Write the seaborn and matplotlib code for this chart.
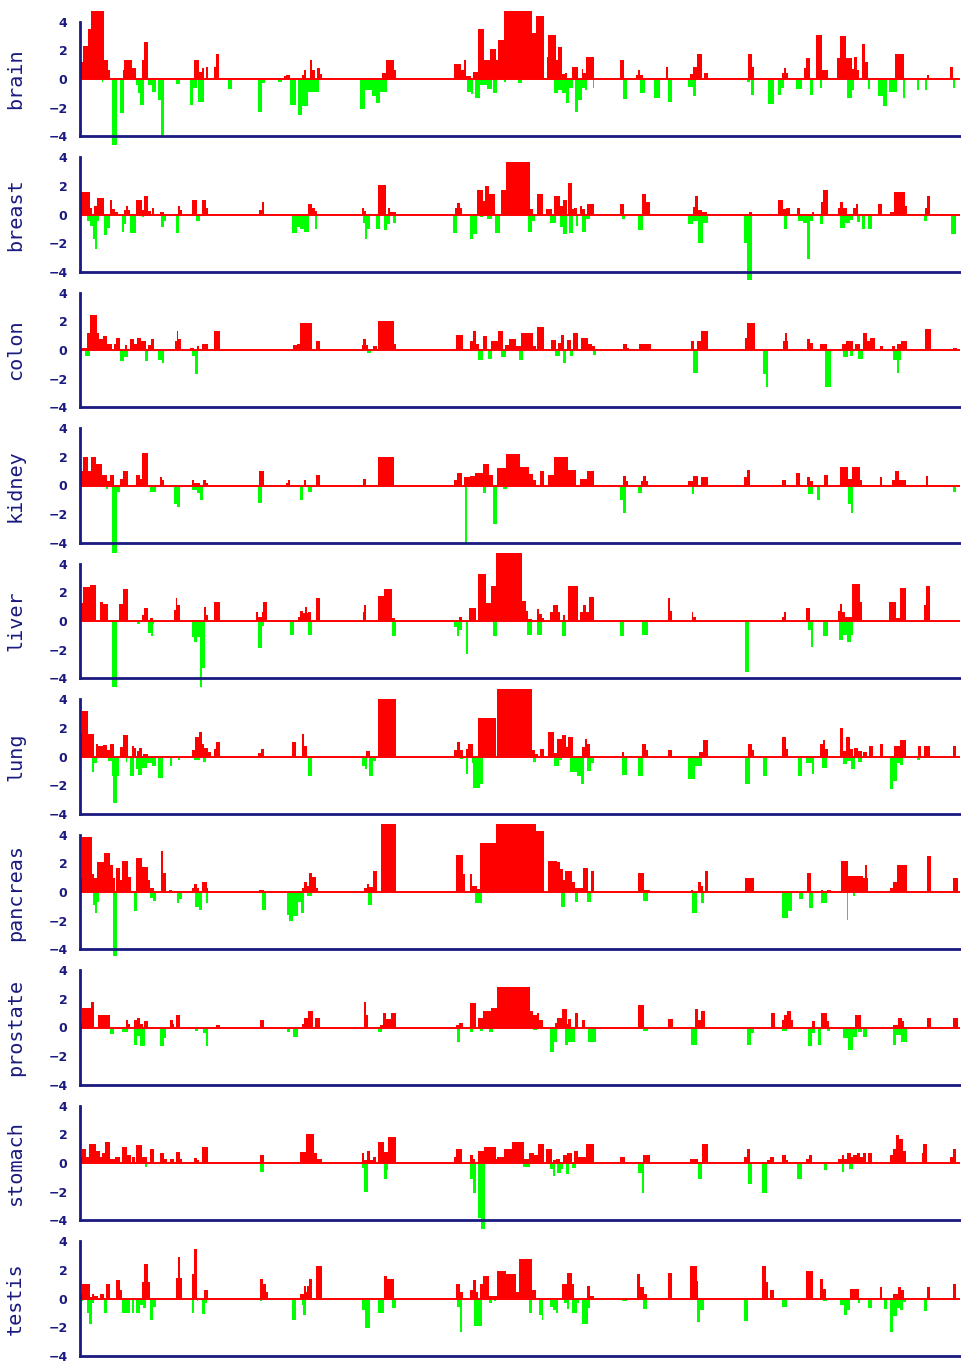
import numpy as np
import matplotlib
matplotlib.use("Agg")
import matplotlib.pyplot as plt
import seaborn as sns

# ---------------- data: (start, end, value) segments along the genome axis ----------------
tissues = ["brain", "breast", "colon", "kidney", "liver", "lung",
           "pancreas", "prostate", "stomach", "testis"]

brain_up = [(0,3,1.2),(3,8,2.3),(8,11,3.5),(11,24,5),(24,28,1.3),(28,30,0.6),(43,44,0.6),(44,52,1.3),(52,56,0.75),(62,64,1.3),(64,68,2.6),(114,119,1.3),(119,122,0.5),(122,124,0.75),(126,128,0.85),(134,136,0.85),(136,139,1.75),(204,206,0.2),(206,210,0.3),(222,224,0.3),(224,226,0.6),(230,232,1.3),(232,235,0.6),(237,240,0.75),(240,242,0.35),(302,306,0.45),(306,314,1.3),(314,316,0.6),(374,381,1.05),(381,384,0.6),(384,386,1.3),(386,391,0.2),(393,398,0.5),(398,404,3.5),(404,410,1.3),(410,416,2.1),(416,418,1.3),(418,424,2.7),(424,452,5),(452,456,3.25),(456,464,4.4),(467,468,1.55),(468,476,3.1),(476,478,1.3),(478,482,2.25),(482,485,0.35),(485,487,0.45),(492,498,0.85),(502,503,0.7),(503,506,0.4),(506,514,1.55),(540,544,1.3),(556,558,0.3),(558,560,0.6),(560,563,0.3),(586,588,0.85),(610,613,0.35),(613,617,0.85),(617,622,1.75),(624,628,0.45),(668,672,1.75),(672,674,0.85),(702,704,0.45),(704,706,0.75),(706,708,0.45),(724,726,0.75),(726,730,1.45),(736,742,3.1),(742,748,0.65),(757,760,1.45),(760,766,3.0),(766,772,1.45),(772,774,0.7),(774,777,1.55),(777,779,0.6),(782,785,2.45),(785,788,1.2),(815,824,1.75),(847,849,0.3),(870,873,0.85)]
brain_dn = [(22,23,-0.2),(32,37,-4.6),(40,44,-2.4),(56,58,-0.4),(58,60,-1.0),(60,64,-1.8),(68,72,-0.4),(72,76,-0.9),(78,81,-1.5),(81,84,-4.1),(96,100,-0.35),(110,113,-1.8),(113,117,-0.65),(118,124,-1.6),(148,152,-0.7),(178,182,-2.3),(182,185,-0.25),(198,202,-0.2),(210,216,-1.8),(218,222,-2.5),(222,228,-1.9),(228,239,-0.9),(280,285,-2.1),(285,292,-0.8),(292,296,-1.2),(296,300,-1.7),(300,307,-0.9),(387,391,-0.9),(391,393,-1.05),(395,400,-1.35),(400,407,-0.4),(407,412,-0.7),(413,417,-1.0),(424,426,-0.2),(438,442,-0.3),(474,478,-1.0),(478,482,-0.8),(482,486,-1.0),(486,489,-1.7),(489,493,-0.65),(495,498,-2.3),(498,502,-1.5),(502,505,-0.65),(505,507,-0.8),(513,514,-0.65),(543,547,-1.4),(560,565,-1.0),(574,580,-1.3),(588,592,-1.6),(608,613,-0.55),(613,616,-1.2),(667,670,-0.2),(671,674,-1.1),(688,694,-1.75),(698,701,-1.1),(701,704,-0.6),(716,722,-0.7),(730,733,-1.1),(740,742,-0.6),(767,772,-1.3),(772,774,-0.8),(788,790,-0.7),(798,803,-1.2),(803,807,-1.9),(809,817,-0.9),(823,825,-1.3),(837,839,-0.8),(845,847,-0.8),(873,875,-0.65)]

breast_up = [(0,10,1.6),(10,12,0.45),(14,17,0.6),(17,24,1.15),(30,32,1.05),(32,35,0.4),(35,38,0.15),(44,46,0.35),(46,48,0.6),(48,50,0.35),(56,62,1.05),(62,64,0.3),(64,68,1.3),(68,71,0.25),(72,74,0.45),(80,84,0.15),(98,100,0.6),(100,102,0.3),(112,117,1.05),(122,126,1.05),(126,128,0.45),(179,182,0.35),(182,184,0.9),(228,232,0.75),(232,235,0.45),(235,237,0.25),(282,284,0.45),(284,286,0.25),(298,306,2.05),(308,310,0.45),(310,316,0.15),(375,377,0.45),(377,380,0.8),(380,382,0.45),(397,403,1.7),(403,405,0.95),(405,409,2.0),(409,415,1.45),(421,426,1.75),(426,450,3.7),(450,453,0.4),(457,463,1.45),(466,472,0.4),(474,480,1.3),(480,483,0.6),(483,487,1.0),(488,492,2.2),(492,494,0.4),(494,497,0.45),(500,502,0.6),(502,505,0.4),(507,514,0.75),(540,544,0.75),(562,566,1.45),(566,570,0.9),(613,615,0.55),(615,618,1.3),(618,622,0.35),(622,627,0.15),(669,672,0.15),(698,703,1.0),(703,706,0.4),(706,710,0.45),(717,720,0.45),(732,734,0.2),(741,743,0.9),(743,748,1.7),(758,760,0.45),(760,763,0.9),(763,767,0.45),(773,776,0.45),(776,778,0.75),(798,802,0.75),(810,814,0.2),(814,825,1.6),(825,827,0.6),(845,847,0.45),(847,850,1.3)]
breast_dn = [(0,2,-0.25),(7,10,-0.45),(10,13,-0.8),(13,15,-1.75),(15,17,-2.45),(17,19,-0.45),(24,27,-1.45),(27,30,-0.95),(42,44,-1.2),(44,46,-0.7),(50,56,-1.3),(62,64,-0.15),(81,84,-0.85),(84,86,-0.45),(96,99,-1.3),(116,120,-0.45),(212,217,-1.3),(217,220,-0.85),(220,224,-1.0),(224,229,-1.2),(235,237,-1.05),(283,285,-0.6),(285,287,-1.7),(287,290,-1.05),(296,300,-1.05),(304,307,-1.1),(307,310,-0.7),(313,316,-0.6),(373,377,-1.3),(390,393,-1.7),(393,397,-1.4),(400,403,-0.15),(407,412,-0.3),(415,420,-1.3),(448,452,-1.2),(452,455,-0.45),(470,476,-0.6),(480,483,-0.85),(483,487,-1.35),(489,493,-1.3),(496,498,-0.8),(502,506,-1.25),(506,510,-0.35),(542,545,-0.3),(558,563,-1.1),(608,613,-0.7),(613,618,-0.45),(618,623,-2.0),(623,628,-0.6),(664,667,-2.0),(667,672,-4.6),(704,707,-1.05),(718,723,-0.45),(723,727,-0.6),(727,730,-3.1),(730,733,-0.45),(740,743,-0.65),(760,765,-0.95),(765,770,-0.6),(770,773,-0.4),(777,780,-0.55),(782,785,-1.0),(788,792,-1.05),(844,847,-0.45),(871,876,-1.4)]

colon_up = [(2,7,0.15),(7,10,1.2),(10,17,2.45),(17,19,1.2),(19,23,0.75),(23,27,1.0),(27,32,0.45),(34,36,0.45),(36,40,0.85),(45,47,0.35),(50,54,0.75),(54,57,0.45),(57,61,0.85),(61,63,0.6),(63,66,0.65),(68,71,0.35),(71,74,0.75),(95,97,0.6),(97,98,1.3),(98,101,0.75),(110,114,0.15),(117,119,0.3),(122,128,0.45),(134,140,1.3),(213,217,0.35),(217,220,0.45),(220,232,1.9),(236,240,0.6),(282,283,0.35),(283,286,0.75),(286,288,0.35),(293,297,0.25),(298,314,2.0),(314,316,0.45),(376,383,1.05),(390,393,0.65),(393,396,1.3),(396,399,0.45),(403,407,1.0),(411,418,0.6),(418,423,1.3),(425,429,0.35),(429,436,0.75),(436,441,0.25),(441,453,1.2),(453,456,0.3),(457,464,1.6),(471,476,0.7),(478,481,0.5),(481,484,1.05),(487,491,0.7),(493,498,1.2),(501,508,0.85),(508,512,0.45),(512,515,0.25),(543,547,0.45),(547,549,0.15),(559,571,0.45),(611,614,0.6),(617,621,0.6),(621,628,1.3),(665,667,0.85),(667,675,1.9),(703,705,0.6),(705,707,1.2),(707,708,0.6),(727,730,0.75),(730,733,0.5),(740,747,0.45),(762,766,0.45),(766,773,0.6),(775,780,0.45),(783,787,1.2),(787,790,0.6),(790,795,0.85),(800,803,0.3),(812,815,0.25),(817,821,0.45),(821,827,0.6),(845,851,1.45),(873,877,0.15)]
colon_dn = [(0,2,-0.35),(5,10,-0.45),(40,44,-0.8),(44,48,-0.5),(65,68,-0.8),(78,82,-0.7),(82,84,-0.9),(112,115,-0.45),(115,118,-1.65),(287,291,-0.2),(398,403,-0.7),(408,412,-0.6),(421,426,-0.5),(439,443,-0.7),(475,480,-0.4),(483,486,-0.9),(490,493,-0.4),(513,516,-0.35),(613,618,-1.6),(683,686,-1.65),(686,688,-2.6),(745,751,-2.6),(763,768,-0.5),(770,773,-0.4),(778,783,-0.6),(813,817,-0.7),(817,819,-1.6),(819,821,-0.7)]

kidney_up = [(0,3,1.0),(3,8,2.0),(8,11,1.0),(11,16,2.0),(16,22,1.5),(22,27,0.75),(27,30,0.35),(30,34,0.75),(40,43,0.45),(43,48,1.0),(56,60,0.75),(60,62,0.45),(62,68,2.3),(80,82,0.6),(82,84,0.4),(112,114,0.4),(114,120,0.2),(123,126,0.4),(126,128,0.2),(179,184,1.0),(206,208,0.2),(208,210,0.4),(224,226,0.4),(236,240,0.75),(283,286,0.45),(298,314,2.0),(374,377,0.4),(377,382,0.85),(384,390,0.6),(390,395,0.7),(395,403,0.85),(403,409,1.5),(409,413,0.75),(417,426,1.2),(426,440,2.2),(440,449,1.3),(449,453,0.8),(453,456,0.4),(460,464,1.0),(468,474,0.75),(474,488,2.0),(488,496,1.1),(500,507,0.45),(507,514,1.0),(543,546,0.7),(546,548,0.3),(561,563,0.35),(563,566,0.7),(566,568,0.3),(608,613,0.35),(613,618,0.7),(621,628,0.6),(664,667,0.6),(667,670,1.1),(702,706,0.4),(716,720,0.85),(727,730,0.6),(730,733,0.35),(744,748,0.75),(760,768,1.3),(768,772,0.45),(772,780,1.3),(780,782,0.4),(800,802,0.6),(812,815,0.4),(815,819,1.0),(819,826,0.4),(846,848,0.7)]
kidney_dn = [(26,28,-0.25),(32,37,-4.7),(37,40,-0.45),(70,76,-0.45),(94,97,-1.3),(97,100,-1.5),(112,117,-0.3),(117,120,-0.55),(120,123,-1.0),(178,182,-1.25),(220,223,-1.0),(228,232,-0.45),(385,387,-4.0),(403,406,-0.5),(413,417,-2.7),(423,427,-0.25),(540,543,-1.05),(543,546,-1.9),(558,562,-0.5),(612,614,-0.6),(728,733,-0.6),(737,740,-1.05),(768,771,-1.3),(771,773,-1.9),(873,876,-0.45)]

liver_up = [(0,3,1.25),(3,10,2.4),(10,16,2.55),(20,23,1.3),(23,28,1.2),(39,43,1.2),(43,48,2.25),(62,64,0.4),(64,68,0.9),(70,73,0.2),(94,96,0.75),(96,97,1.6),(97,100,1.1),(124,126,1.0),(126,128,0.45),(134,140,1.3),(176,178,0.6),(178,182,0.3),(182,183,0.65),(183,187,1.3),(218,220,0.3),(220,223,0.7),(223,225,0.55),(225,227,1.0),(227,228,0.55),(228,231,0.6),(236,240,1.6),(283,284,0.6),(284,286,1.15),(298,304,1.75),(304,312,2.25),(312,315,0.2),(379,382,0.3),(389,396,0.9),(398,406,3.3),(406,411,1.25),(411,416,2.45),(416,442,4.9),(442,446,1.4),(446,448,0.7),(448,452,0.15),(457,459,0.85),(459,462,0.5),(462,464,0.2),(470,473,0.6),(473,478,1.15),(478,480,0.6),(483,485,0.45),(488,498,2.45),(500,503,0.6),(503,506,1.15),(506,509,0.65),(509,514,1.7),(588,590,1.6),(590,592,0.7),(612,613,0.6),(613,616,0.3),(702,704,0.3),(704,706,0.6),(726,730,0.9),(758,760,0.7),(760,762,1.2),(762,765,0.65),(765,772,0.3),(772,780,2.6),(780,782,1.3),(809,816,1.3),(816,820,0.2),(820,826,2.3),(844,846,1.15),(846,850,2.45)]
liver_dn = [(32,37,-4.6),(57,60,-0.2),(68,71,-0.85),(71,73,-1.05),(73,74,-0.2),(112,114,-1.15),(114,117,-1.45),(117,120,-1.15),(120,122,-4.6),(122,125,-3.3),(178,182,-1.9),(182,184,-0.35),(210,214,-1.0),(228,232,-1.0),(312,316,-1.05),(374,377,-0.4),(377,379,-1.05),(379,382,-0.65),(386,388,-2.3),(413,417,-1.05),(447,452,-1.0),(457,462,-1.0),(482,486,-1.05),(540,544,-1.05),(562,568,-1.0),(665,669,-3.6),(728,731,-0.65),(731,733,-1.85),(743,748,-1.05),(759,763,-1.35),(763,767,-1.0),(767,771,-1.45),(771,773,-1.0)]

lung_up = [(0,2,1.65),(2,8,3.2),(8,14,1.6),(16,18,0.9),(18,23,0.75),(23,27,0.8),(27,30,0.45),(30,34,0.9),(40,43,0.7),(43,48,1.5),(52,54,0.75),(54,56,0.6),(57,59,0.4),(59,62,0.6),(63,68,0.2),(112,115,0.45),(115,119,1.35),(119,122,1.7),(122,124,0.9),(124,128,0.6),(128,131,0.35),(134,136,0.55),(136,140,1.0),(178,181,0.25),(181,184,0.5),(212,216,1.05),(222,224,1.6),(224,227,0.75),(286,290,0.4),(298,316,4.0),(374,377,0.45),(377,380,1.0),(380,383,0.45),(386,388,0.5),(388,393,0.9),(398,416,2.7),(417,452,4.8),(452,455,0.45),(455,458,0.2),(460,464,0.5),(468,474,1.7),(474,477,0.25),(477,482,1.2),(482,486,1.5),(486,488,0.7),(488,493,1.35),(502,505,0.7),(505,507,1.25),(507,510,0.9),(542,544,0.35),(562,566,0.9),(566,568,0.45),(588,592,0.45),(619,623,0.35),(623,628,1.15),(668,672,0.9),(672,674,0.45),(702,706,1.35),(706,708,0.55),(740,743,0.9),(743,745,1.15),(745,748,0.55),(760,763,2.0),(763,766,0.4),(766,770,1.35),(770,773,0.5),(774,778,0.6),(778,782,0.4),(783,787,0.35),(789,793,0.75),(800,803,0.9),(814,820,0.75),(820,826,1.15),(838,841,0.75),(844,850,0.75),(873,876,0.75)]
lung_dn = [(12,14,-1.1),(14,17,-0.45),(28,32,-0.35),(32,33,-1.4),(33,37,-3.25),(37,39,-1.4),(46,47,-0.4),(50,54,-1.4),(56,58,-0.9),(58,62,-1.3),(62,67,-0.8),(67,72,-0.45),(72,76,-0.65),(78,83,-1.5),(90,92,-0.65),(98,100,-0.25),(114,120,-0.25),(123,126,-0.4),(228,232,-1.35),(282,285,-0.7),(285,287,-0.9),(289,293,-1.4),(293,296,-0.35),(380,383,-0.15),(386,388,-1.2),(392,393,-0.45),(393,400,-2.2),(400,403,-1.9),(415,418,-0.1),(453,456,-0.4),(474,479,-0.65),(479,482,-0.25),(490,497,-1.1),(497,501,-1.35),(501,504,-1.9),(507,511,-1.0),(511,514,-0.45),(542,547,-1.3),(558,563,-1.35),(608,615,-1.6),(615,622,-0.65),(665,670,-1.9),(683,687,-1.35),(718,722,-1.35),(726,732,-0.45),(732,734,-1.25),(742,747,-0.8),(763,767,-0.55),(767,771,-0.35),(771,775,-0.9),(778,782,-0.4),(810,813,-2.3),(813,817,-1.7),(817,820,-0.45),(820,823,-0.6),(837,840,-0.25)]

pancreas_up = [(0,2,0.95),(2,12,3.85),(12,14,1.25),(14,17,1.0),(17,24,2.1),(24,30,2.7),(30,33,1.9),(33,35,1.0),(36,40,1.65),(40,42,0.85),(42,48,2.2),(48,51,1.05),(56,62,2.35),(62,68,1.75),(68,70,0.85),(70,74,0.3),(81,83,2.9),(83,86,1.35),(89,92,0.15),(112,114,0.3),(114,117,0.55),(117,119,0.25),(122,127,0.7),(127,128,0.3),(179,184,0.15),(222,224,0.25),(224,227,0.7),(227,229,0.4),(229,232,1.35),(232,236,1.05),(236,238,0.3),(284,287,0.3),(287,289,0.55),(289,293,0.35),(293,297,1.5),(301,316,4.9),(376,383,2.6),(383,385,1.25),(390,392,1.25),(392,397,0.4),(397,400,0.2),(400,416,3.45),(416,456,4.9),(456,464,4.25),(468,477,2.2),(477,480,2.1),(480,483,1.6),(483,485,0.85),(485,492,1.5),(492,495,0.7),(495,503,0.3),(503,508,1.65),(511,514,1.5),(558,564,1.35),(564,570,0.15),(611,613,0.15),(618,621,0.7),(621,623,0.45),(625,628,1.5),(665,674,0.95),(727,731,1.35),(741,743,0.15),(747,751,0.15),(761,768,2.2),(768,783,1.15),(783,785,1.0),(785,787,1.9),(787,788,1.0),(810,813,0.3),(813,817,0.7),(817,827,1.9),(847,851,2.5),(873,878,0.95)]
pancreas_dn = [(13,15,-0.9),(15,17,-1.45),(17,19,-0.7),(33,37,-4.5),(54,57,-1.3),(70,73,-0.4),(73,76,-0.65),(97,99,-0.8),(99,102,-0.5),(115,119,-1.05),(119,122,-1.25),(126,128,-0.75),(182,186,-1.25),(207,209,-1.6),(209,213,-2.0),(213,218,-1.7),(218,221,-0.7),(221,224,-1.45),(227,232,-0.3),(288,292,-0.9),(395,402,-0.8),(481,485,-1.05),(495,498,-0.7),(507,511,-0.7),(563,568,-0.6),(612,617,-1.45),(621,624,-0.75),(702,708,-1.8),(708,712,-1.35),(719,723,-0.5),(729,733,-1.1),(741,747,-0.75),(767,768,-1.95),(773,775,-0.3)]

prostate_up = [(0,2,0.3),(2,11,1.4),(11,14,1.8),(18,30,0.85),(46,48,0.55),(48,50,0.25),(54,57,0.55),(57,60,0.7),(60,63,0.25),(64,68,0.45),(90,93,0.55),(93,94,0.25),(96,100,0.9),(136,140,0.2),(180,184,0.55),(222,224,0.25),(224,228,0.7),(228,233,1.15),(235,240,0.7),(284,286,1.8),(286,288,0.85),(300,303,0.15),(303,306,1.0),(306,311,0.6),(311,316,1.0),(376,379,0.15),(379,383,0.3),(390,396,1.7),(398,403,0.7),(403,411,1.15),(411,417,1.4),(417,450,2.85),(450,453,1.15),(453,457,0.85),(457,459,1.0),(459,463,0.5),(475,477,0.3),(477,482,0.7),(482,487,1.3),(487,488,0.25),(488,491,0.6),(495,498,1.0),(502,505,0.55),(558,564,1.6),(588,593,0.6),(615,618,1.3),(618,621,0.55),(621,625,1.15),(691,695,1.0),(702,704,0.55),(704,707,0.9),(707,711,1.15),(711,713,0.55),(732,735,0.45),(741,747,1.0),(747,749,0.45),(775,781,0.85),(813,818,0.2),(818,822,0.7),(822,824,0.45),(847,851,0.7),(873,878,0.7)]
prostate_dn = [(30,34,-0.45),(42,48,-0.3),(54,57,-1.2),(57,60,-0.6),(60,65,-1.3),(80,84,-1.3),(84,86,-0.75),(115,118,-0.25),(123,126,-0.4),(126,128,-1.3),(207,210,-0.3),(213,218,-0.65),(298,302,-0.3),(377,380,-1.0),(390,393,-0.35),(400,403,-0.25),(409,413,-0.3),(453,457,-0.15),(470,474,-1.75),(474,477,-1.0),(485,488,-1.2),(488,495,-1.0),(508,516,-1.0),(563,568,-0.25),(611,617,-1.2),(667,671,-1.2),(671,674,-0.4),(702,707,-0.25),(728,732,-1.3),(732,735,-0.4),(738,741,-1.2),(747,750,-0.25),(763,768,-0.75),(768,773,-1.55),(773,777,-0.65),(778,782,-0.3),(783,787,-0.65),(813,816,-1.2),(816,821,-0.5),(821,827,-1.0)]

stomach_up = [(0,2,0.4),(2,6,0.95),(6,9,0.45),(9,16,1.35),(16,20,0.85),(20,22,0.45),(22,25,0.7),(25,30,1.5),(30,35,0.25),(35,40,0.4),(42,47,1.15),(47,51,0.55),(52,55,0.4),(56,62,1.25),(62,67,0.45),(70,74,0.95),(80,84,0.7),(84,87,0.25),(90,94,0.25),(96,100,0.8),(100,102,0.25),(114,117,0.35),(117,119,0.2),(122,128,1.15),(180,184,0.55),(220,226,0.8),(226,234,2.05),(234,237,0.7),(237,242,0.3),(282,284,0.7),(284,287,0.2),(287,290,0.85),(290,293,0.2),(293,296,0.4),(298,304,1.5),(304,308,0.75),(308,316,1.8),(374,376,0.4),(376,382,0.95),(390,393,0.55),(393,395,0.3),(398,404,0.85),(404,416,1.15),(416,417,0.3),(417,424,0.45),(424,432,0.95),(432,444,1.5),(444,449,0.3),(449,454,0.7),(454,458,0.55),(458,464,1.35),(466,472,1.0),(473,476,0.2),(476,480,0.25),(483,487,0.55),(487,492,0.7),(494,498,0.85),(498,506,0.4),(506,514,1.35),(540,545,0.4),(545,548,0.1),(563,570,0.55),(610,618,0.25),(622,628,1.35),(664,667,0.45),(667,670,0.95),(687,690,0.2),(690,694,0.4),(702,706,0.55),(706,708,0.2),(726,729,0.25),(729,732,0.55),(758,762,0.25),(762,764,0.55),(764,767,0.3),(767,771,0.7),(771,773,0.4),(773,777,0.55),(777,780,0.7),(780,783,0.4),(783,786,0.7),(788,792,0.7),(810,813,0.55),(813,816,0.95),(816,819,1.95),(819,823,1.65),(823,826,0.85),(842,843,0.7),(843,847,1.35),(870,873,0.4),(873,876,0.95)]
stomach_dn = [(65,67,-0.25),(180,184,-0.65),(282,284,-0.35),(284,288,-2.0),(304,307,-1.15),(307,308,-0.5),(390,393,-1.15),(393,396,-2.1),(398,401,-3.85),(401,405,-4.6),(443,450,-0.25),(470,473,-0.45),(473,475,-0.9),(477,481,-0.7),(481,483,-0.45),(486,489,-0.8),(492,496,-0.35),(558,562,-0.7),(562,564,-2.1),(618,622,-1.15),(668,672,-1.45),(682,687,-2.1),(717,722,-1.1),(744,747,-0.5),(762,764,-0.6),(769,773,-0.45)]

testis_up = [(0,2,0.35),(2,10,1.0),(10,12,0.1),(12,14,0.3),(14,18,0.15),(20,24,0.3),(26,30,1.0),(36,40,1.3),(40,42,0.6),(62,64,1.15),(64,68,2.4),(68,70,1.15),(96,98,1.45),(98,100,2.9),(100,102,1.45),(112,114,1.7),(114,117,3.45),(124,128,0.6),(180,183,1.4),(183,186,1.0),(186,188,0.45),(220,224,0.35),(224,226,0.85),(226,227,0.45),(227,229,0.9),(229,232,1.4),(236,242,2.25),(304,307,1.6),(307,314,1.4),(376,380,1.0),(380,383,0.45),(390,393,0.6),(393,396,1.3),(396,398,0.45),(400,403,1.0),(403,409,1.6),(409,417,0.2),(417,426,1.95),(426,436,1.7),(436,439,0.45),(439,452,2.8),(452,456,0.6),(482,487,1.0),(487,492,1.8),(492,494,1.0),(507,510,0.9),(510,514,0.2),(557,560,1.7),(560,564,0.8),(564,567,0.35),(588,592,1.8),(610,617,2.25),(617,618,1.25),(682,686,2.25),(686,688,1.15),(690,694,0.6),(726,733,1.95),(740,743,1.4),(743,746,0.7),(770,779,0.7),(800,802,0.8),(813,818,0.35),(818,821,0.8),(821,824,0.6),(847,850,0.8),(873,876,1.0)]
testis_dn = [(0,3,-0.2),(7,9,-1.0),(9,12,-1.8),(12,14,-0.35),(24,27,-1.0),(42,50,-1.0),(52,54,-1.0),(56,60,-1.0),(60,63,-0.45),(63,66,-0.7),(70,73,-1.5),(73,76,-0.6),(112,114,-1.0),(117,118,-0.15),(122,125,-1.1),(125,127,-0.35),(180,182,-0.15),(212,216,-1.5),(222,223,-0.45),(223,226,-1.15),(282,285,-0.8),(285,290,-2.1),(298,304,-1.0),(312,316,-0.7),(377,380,-0.6),(380,382,-2.35),(394,402,-1.9),(409,412,-0.3),(414,416,-0.15),(449,452,-1.0),(459,462,-1.15),(462,463,-1.5),(470,473,-0.6),(473,476,-0.8),(476,478,-1.0),(484,487,-0.35),(487,489,-0.75),(492,497,-1.0),(497,499,-0.35),(502,508,-1.8),(508,510,-0.7),(542,547,-0.2),(563,567,-0.75),(617,620,-1.65),(620,624,-0.8),(664,668,-1.55),(702,707,-0.6),(743,747,-0.2),(760,764,-0.45),(764,767,-1.15),(767,770,-0.8),(778,780,-0.35),(788,792,-0.7),(804,807,-0.75),(810,813,-2.35),(813,817,-1.25),(817,820,-0.7),(820,823,-0.8),(823,826,-0.25),(844,847,-0.9)]

ups = [brain_up, breast_up, colon_up, kidney_up, liver_up, lung_up,
       pancreas_up, prostate_up, stomach_up, testis_up]
dns = [brain_dn, breast_dn, colon_dn, kidney_dn, liver_dn, lung_dn,
       pancreas_dn, prostate_dn, stomach_dn, testis_dn]

yticks = [-4, -2, 0, 2, 4]
x_extent = (0, 880)

# ---------------- drawing ----------------
sns.set_theme(style="white")
plt.rcParams["font.family"] = ["DejaVu Sans"]

NAVY = "#1a1a80"
W, H = 961, 1361
fig = plt.figure(figsize=(W / 100, H / 100), dpi=100)

ax_left = 80 / W
ax_w = 880 / W
panel_h = 135.5
ylim = 4.75


def draw_segments(ax, segs, color):
    arr = np.asarray(segs, dtype=float)
    starts, ends, vals = arr[:, 0], arr[:, 1], arr[:, 2]
    edges = np.unique(np.concatenate([starts, ends])).tolist()
    mids = (starts + ends) / 2.0
    sns.histplot(x=mids, weights=vals, bins=edges, stat="count",
                 element="bars", color=color, alpha=1.0, linewidth=0,
                 ax=ax, zorder=2)


for i, name in enumerate(tissues):
    zero_px = 79 + panel_h * i
    bottom_px = zero_px + panel_h / 2
    ax = fig.add_axes([ax_left, 1 - bottom_px / H, ax_w, panel_h / H])
    ax.set_facecolor("none")

    draw_segments(ax, ups[i], "#ff0000")
    draw_segments(ax, dns[i], "#00ff00")

    ax.axhline(0, color="#ff0000", lw=1.4, zorder=3)

    ax.set_xlim(*x_extent)
    ax.set_ylim(-ylim, ylim)
    ax.set_xticks([])
    ax.set_yticks(yticks)
    ax.set_yticklabels([f"{t}".replace("-", "\u2212") for t in yticks])
    ax.tick_params(axis="y", length=0, pad=9, labelsize=9, labelcolor=NAVY)
    for lab in ax.get_yticklabels():
        lab.set_fontweight("bold")

    for s in ("top", "right"):
        ax.spines[s].set_visible(False)
    ax.spines["left"].set_bounds(-4, 4)
    ax.spines["left"].set_color(NAVY)
    ax.spines["left"].set_linewidth(2)
    ax.spines["left"].set_zorder(4)
    ax.spines["bottom"].set_position(("data", -4))
    ax.spines["bottom"].set_color(NAVY)
    ax.spines["bottom"].set_linewidth(2)
    ax.spines["bottom"].set_zorder(4)

    ax.set_xlabel("")
    ax.set_ylabel(name, family="DejaVu Sans Mono", fontsize=14.5, color=NAVY)
    ax.yaxis.set_label_coords(-55 / 880, 0.5)

fig.savefig("out.png", dpi=100)
